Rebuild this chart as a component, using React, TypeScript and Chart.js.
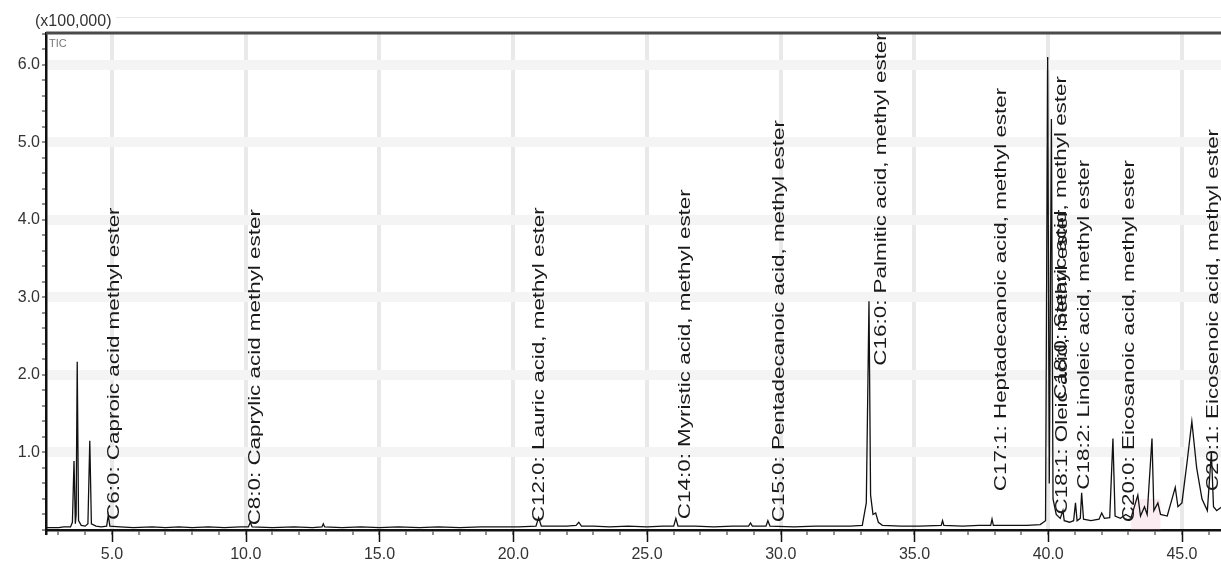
import React, { useEffect, useRef } from "react";
import { Chart, registerables } from "chart.js";

Chart.register(...registerables);

// Retention time (min) and intensity (x100,000)
const times = [
  2.55, 3.0, 3.2, 3.45, 3.52, 3.58, 3.63, 3.66, 3.7, 3.75, 3.85, 4.0, 4.1, 4.17, 4.23, 4.4, 4.6, 4.8, 4.86, 4.92,
  5.3, 5.8, 6.5, 7.0, 7.5, 8.0, 8.6, 9.2, 9.8, 10.1, 10.17, 10.24, 11.0, 11.8, 12.5, 12.85, 12.9, 12.95, 13.6, 14.3,
  15.0, 15.7, 16.5, 17.2, 18.0, 18.8, 19.5, 20.2, 20.85, 20.95, 21.05, 21.4, 22.0, 22.35, 22.45, 22.55, 23.0, 23.6,
  24.3, 25.0, 25.6, 26.0, 26.08, 26.16, 26.8, 27.5, 28.2, 28.8, 28.87, 28.94, 29.3, 29.45, 29.52, 29.6, 30.5, 31.3,
  32.0, 32.6, 33.05, 33.2, 33.3, 33.36, 33.45, 33.55, 33.65, 33.8, 34.5, 35.2, 36.0, 36.05, 36.1, 36.8, 37.4, 37.85,
  37.9, 37.95, 38.5, 39.2, 39.7, 39.9, 39.98, 40.04, 40.12, 40.18, 40.3, 40.45, 40.55, 40.6, 40.8, 40.95, 41.02,
  41.08, 41.2, 41.25, 41.32, 41.6, 41.9, 42.0, 42.1, 42.3, 42.42, 42.5, 42.7, 42.9, 43.1, 43.35, 43.45, 43.6, 43.7,
  43.88, 43.95, 44.1, 44.2, 44.45, 44.75, 44.85, 45.0, 45.2, 45.37, 45.55, 45.75, 45.95, 46.1, 46.18, 46.3, 46.5,
];
const intensity = [
  0.03, 0.03, 0.04, 0.04, 0.1, 0.89, 0.08, 0.2, 2.17, 0.12, 0.06, 0.05, 0.08, 1.15, 0.08, 0.05, 0.04, 0.05, 0.19, 0.05,
  0.04, 0.03, 0.04, 0.03, 0.04, 0.03, 0.04, 0.03, 0.04, 0.04, 0.1, 0.04, 0.03, 0.04, 0.03, 0.04, 0.08, 0.04, 0.03, 0.04,
  0.03, 0.04, 0.03, 0.04, 0.03, 0.04, 0.04, 0.04, 0.05, 0.16, 0.05, 0.05, 0.05, 0.06, 0.1, 0.05, 0.05, 0.04,
  0.05, 0.04, 0.05, 0.05, 0.15, 0.05, 0.05, 0.04, 0.05, 0.05, 0.09, 0.05, 0.05, 0.05, 0.12, 0.05, 0.04, 0.05,
  0.05, 0.05, 0.06, 0.35, 2.95, 0.45, 0.2, 0.22, 0.1, 0.06, 0.05, 0.05, 0.06, 0.12, 0.06, 0.05, 0.06, 0.06,
  0.14, 0.06, 0.06, 0.06, 0.07, 0.12, 6.1, 0.6, 5.3, 0.4, 0.2, 0.15, 0.25, 0.12, 0.1, 0.12, 0.35,
  0.12, 0.15, 0.48, 0.14, 0.12, 0.14, 0.22, 0.15, 0.16, 1.18, 0.18, 0.15, 0.2, 0.16, 0.45, 0.18, 0.3, 0.2,
  1.18, 0.25, 0.35, 0.2, 0.18, 0.55, 0.3, 0.35, 0.9, 1.4, 0.8, 0.4, 0.25, 1.0, 0.3, 0.25, 0.3,
];

// Peak annotations
const labelTexts = [
  "C6:0: Caproic acid methyl ester",
  "C8:0: Caprylic acid methyl ester",
  "C12:0: Lauric acid, methyl ester",
  "C14:0: Myristic acid, methyl ester",
  "C15:0: Pentadecanoic acid, methyl ester",
  "C16:0: Palmitic acid, methyl ester",
  "C17:1: Heptadecanoic acid, methyl ester",
  "C18:0: Stearic acid, methyl ester",
  "C18:1: Oleic acid, methyl ester",
  "C18:2: Linoleic acid, methyl ester",
  "C20:0: Eicosanoic acid, methyl ester",
  "C20:1: Eicosenoic acid, methyl ester",
];
const labelTimes = [5.1, 10.35, 21.0, 26.46, 29.97, 33.79, 38.27, 40.51, 40.55, 41.37, 43.06, 46.2];
const labelStarts = [0.13, 0.06, 0.1, 0.14, 0.1, 2.12, 0.5, 1.68, 0.2, 0.52, 0.1, 0.5];

const xMin = 2.533;
const xMax = 46.46;
const yMin = 0;
const yMax = 6.41;
const majorXTicks = [5, 10, 15, 20, 25, 30, 35, 40, 45];
const highlightRange = [43.1, 44.2, 0.0, 0.4];
const unitLabel = "(x100,000)";
const traceLabel = "TIC";

const FONT = '"Liberation Sans", Arial, sans-serif';
const LABEL_STRETCH = 1.4;

const decorPlugin = {
  id: "decor",
  beforeDatasetsDraw(chart: any) {
    const { ctx, scales } = chart;
    const x = scales.x;
    const y = scales.y;
    ctx.save();
    const x0 = x.getPixelForValue(highlightRange[0]);
    const x1 = x.getPixelForValue(highlightRange[1]);
    const y0 = y.getPixelForValue(highlightRange[3]);
    const y1 = y.getPixelForValue(highlightRange[2]);
    ctx.fillStyle = "rgba(235,170,190,0.22)";
    ctx.fillRect(x0, y0, x1 - x0, y1 - y0);
    ctx.restore();
  },
  afterDatasetsDraw(chart: any) {
    const { ctx, chartArea, scales } = chart;
    const x = scales.x;
    const y = scales.y;
    ctx.save();
    // top frame line
    ctx.strokeStyle = "#e6e6e6";
    ctx.lineWidth = 1;
    ctx.beginPath();
    ctx.moveTo(chartArea.left + 70, chartArea.top - 15.5);
    ctx.lineTo(chartArea.right, chartArea.top - 15.5);
    ctx.stroke();
    ctx.strokeStyle = "#4a4a4a";
    ctx.lineWidth = 3;
    ctx.beginPath();
    ctx.moveTo(chartArea.left, chartArea.top);
    ctx.lineTo(chartArea.right, chartArea.top);
    ctx.stroke();
    // major x ticks
    ctx.strokeStyle = "#111";
    ctx.lineWidth = 1.5;
    majorXTicks.forEach((v) => {
      const px = Math.round(x.getPixelForValue(v)) + 0.5;
      ctx.beginPath();
      ctx.moveTo(px, chartArea.bottom);
      ctx.lineTo(px, chartArea.bottom + 12);
      ctx.stroke();
    });
    // unit label
    ctx.fillStyle = "#333";
    ctx.font = `16px ${FONT}`;
    ctx.textBaseline = "middle";
    ctx.textAlign = "left";
    ctx.fillText(unitLabel, chartArea.left - 11, chartArea.top - 11);
    ctx.font = `11px ${FONT}`;
    ctx.fillStyle = "#777";
    ctx.fillText(traceLabel, chartArea.left + 3, chartArea.top + 11);
    // peak labels
    ctx.fillStyle = "#1a1a1a";
    ctx.font = `16px ${FONT}`;
    ctx.textBaseline = "middle";
    ctx.textAlign = "left";
    labelTexts.forEach((txt, i) => {
      const px = x.getPixelForValue(labelTimes[i]);
      const py = y.getPixelForValue(labelStarts[i]);
      ctx.save();
      ctx.translate(px, py);
      ctx.rotate(-Math.PI / 2);
      ctx.scale(LABEL_STRETCH, 1);
      ctx.fillText(txt, 0, 0);
      ctx.restore();
    });
    ctx.restore();
  },
};

export default function App() {
  const ref = useRef<HTMLCanvasElement | null>(null);

  useEffect(() => {
    document.body.style.margin = "0";
    const canvas = ref.current;
    if (!canvas) return;
    const chart = new Chart(canvas, {
      type: "line",
      data: {
        datasets: [
          {
            label: traceLabel,
            data: times.map((t, i) => ({ x: t, y: intensity[i] })),
            borderColor: "#111",
            borderWidth: 1.3,
            pointRadius: 0,
            tension: 0,
            fill: false,
          },
        ],
      },
      options: {
        animation: false,
        responsive: false,
        devicePixelRatio: 1,
        layout: { padding: { top: 33, right: 0, left: 0, bottom: 0 } },
        plugins: {
          legend: { display: false },
          tooltip: { enabled: false },
          title: { display: false },
        },
        scales: {
          x: {
            type: "linear",
            min: xMin,
            max: xMax,
            afterBuildTicks: (scale: any) => {
              const ticks: any[] = [];
              for (let v = Math.ceil(xMin); v <= Math.floor(xMax); v++) ticks.push({ value: v });
              scale.ticks = ticks;
            },
            afterFit: (scale: any) => {
              scale.height = 43;
            },
            ticks: {
              autoSkip: false,
              maxRotation: 0,
              padding: 10,
              color: "#333",
              font: { family: FONT, size: 16 },
              callback: (v: any) => (Number(v) % 5 === 0 ? Number(v).toFixed(1) : ""),
            },
            grid: {
              color: (c: any) => (c.tick && c.tick.value % 5 === 0 ? "#e9e9e9" : "rgba(0,0,0,0)"),
              lineWidth: 4,
              tickColor: "#222",
              tickLength: 5,
              tickWidth: 1,
            },
            border: { display: true, color: "#111", width: 2.5 },
          },
          y: {
            type: "linear",
            min: yMin,
            max: yMax,
            afterBuildTicks: (scale: any) => {
              const ticks: any[] = [];
              for (let k = 0; k <= 32; k++) ticks.push({ value: k / 5 });
              scale.ticks = ticks;
            },
            afterFit: (scale: any) => {
              scale.width = 46;
            },
            ticks: {
              autoSkip: false,
              padding: 2,
              color: "#333",
              font: { family: FONT, size: 16 },
              callback: (v: any) => {
                const n = Number(v);
                return Math.abs(n - Math.round(n)) < 1e-6 && n > 0 ? n.toFixed(1) : "";
              },
            },
            grid: {
              color: (c: any) => {
                const n = c.tick ? c.tick.value : 0.5;
                return Math.abs(n - Math.round(n)) < 1e-6 && n > 0 ? "#f4f4f4" : "rgba(0,0,0,0)";
              },
              lineWidth: 10,
              tickColor: "#222",
              tickLength: 4,
              tickWidth: 1,
            },
            border: { display: true, color: "#111", width: 2.5 },
          },
        },
      },
      plugins: [decorPlugin],
    });
    return () => chart.destroy();
  }, []);

  return (
    <div style={{ position: "fixed", left: 0, top: 0, width: 1221, height: 573, background: "#fff" }}>
      <canvas ref={ref} width={1221} height={573} style={{ display: "block" }} />
    </div>
  );
}
